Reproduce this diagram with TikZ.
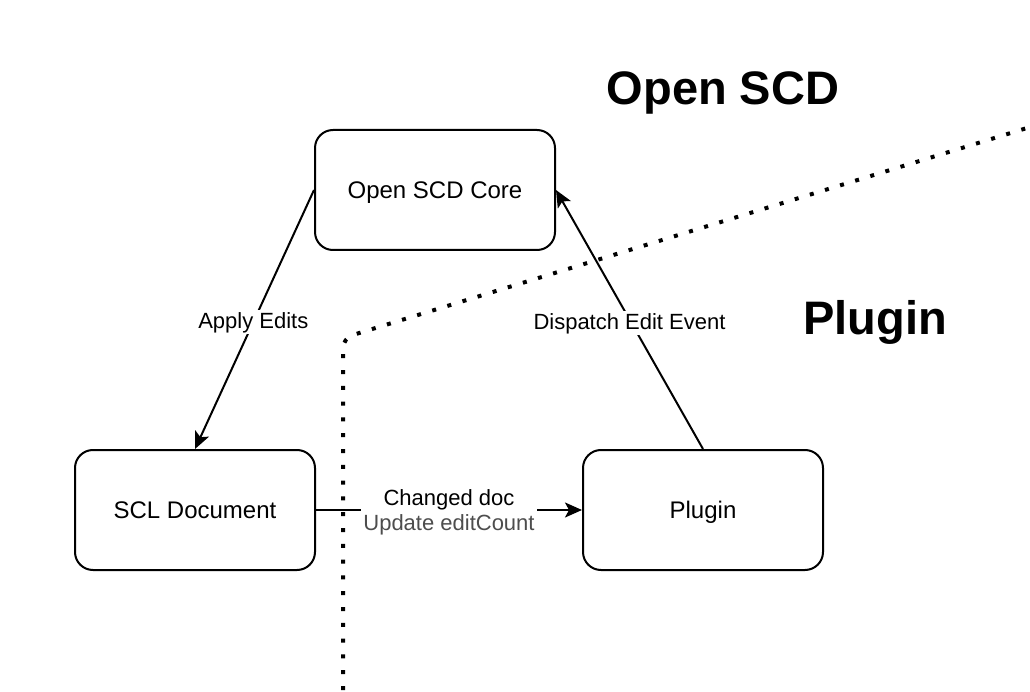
\documentclass[tikz,border=0pt]{standalone}
\usepackage{fontspec}
\setmainfont{Liberation Sans}
\usetikzlibrary{arrows.meta}
\definecolor{labgray}{RGB}{77,77,77}
\tikzset{
  box/.style={draw, line width=2pt, rounded corners=18pt, minimum width=240pt, minimum height=120pt, inner sep=0pt, text height=17pt, text depth=0pt, font=\fontsize{24}{28}\selectfont},
  conn/.style={line width=2pt, -{Stealth[length=17pt,width=15pt,inset=4pt]}},
  elabel/.style={fill=white, inner sep=2pt, text height=16pt, text depth=4pt, font=\fontsize{22}{26}\selectfont},
  title/.style={font=\fontsize{47}{54}\selectfont\bfseries},
  divider/.style={line width=4pt, dash pattern=on 4pt off 11.8pt, rounded corners=10pt}
}
\begin{document}
\begin{tikzpicture}[x=1pt,y=-1pt]
\useasboundingbox (0,0) rectangle (1030,692);
\fill[white] (0,0) rectangle (1030,692);

\node[box] (core) at (435,190) {Open SCD Core};
\node[box] (scl) at (195,510) {SCL Document};
\node[box] (plugin) at (703,510) {Plugin};

\draw[conn] (core.west) -- (scl.north) node[elabel, pos=0.51] {Apply Edits};
\draw[conn] (plugin.north) -- (core.east) node[elabel, pos=0.5, yshift=-4pt] {Dispatch Edit Event};
\draw[conn] (scl.east) -- (plugin.west)
  node[pos=0.5, yshift=-2pt, fill=white, inner sep=2pt, align=center, font=\fontsize{22}{26}\selectfont] (cd) {Changed doc\\[-1pt]\textcolor{labgray}{Update editCount}};

\node[title] (t1) at (723,93) {Open SCD};
\node[title] (t2) at (875,322) {Plugin};

\coordinate (d1) at (343,690);
\coordinate (d2) at (343,338);
\coordinate (d3) at (1040,124);
\begin{scope}
\clip (0,0) rectangle (1030,692);
\draw[divider] (d1) -- (d2) -- (d3);
\end{scope}
\end{tikzpicture}
\end{document}
